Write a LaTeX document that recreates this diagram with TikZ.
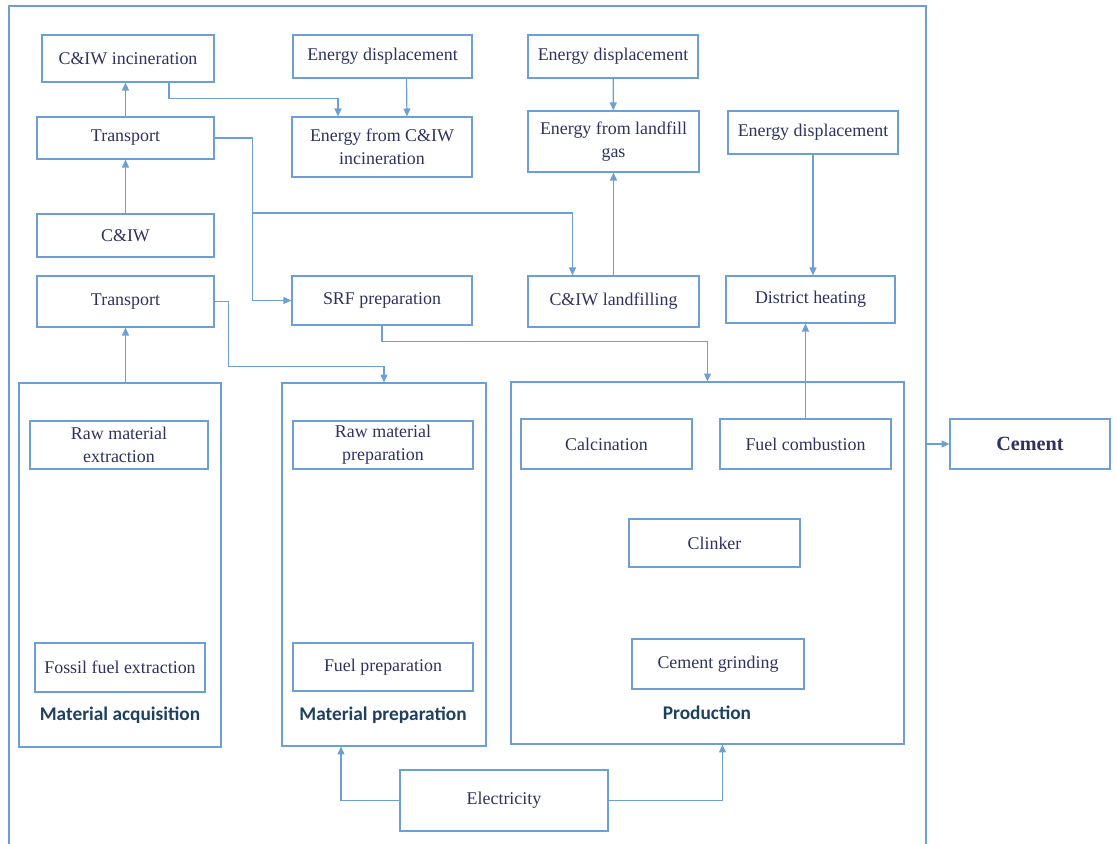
\documentclass[tikz,border=0pt]{standalone}
\usepackage{fontspec}
\setmainfont{Liberation Serif}
\newfontfamily\labelfont{Carlito}
\usetikzlibrary{arrows.meta,calc}
\definecolor{lineblue}{RGB}{108,160,212}
\definecolor{textnavy}{RGB}{45,50,95}
\definecolor{labelteal}{RGB}{30,65,95}

\begin{document}
\begin{tikzpicture}[
    x=0.02cm, y=-0.02cm,
    font=\fontsize{10.2}{13}\selectfont,
    >={Triangle[length=4.5pt,width=4pt]},
    box/.style={draw=lineblue, line width=0.7pt, text=textnavy, align=center, inner sep=1pt},
    group/.style={draw=lineblue, line width=0.7pt},
    arr/.style={->, lineblue, line width=0.7pt},
    grouplabel/.style={font=\labelfont\bfseries\fontsize{11}{13}\selectfont, text=labelteal}
]
    \useasboundingbox (0,0) rectangle (1117,844);
    \draw[group] (9,844) -- (9,6) -- (926,6) -- (926,844);

    \node[box, minimum width=3.44cm, minimum height=0.94cm] (inc) at (128,58.5) {C\&IW incineration};
    \node[box, minimum width=3.58cm, minimum height=0.86cm] (edisp1) at (382.5,56.5) {Energy displacement};
    \node[box, minimum width=3.54cm, minimum height=0.84cm] (trans1) at (125.5,138) {Transport};
    \node[box, minimum width=3.6cm, minimum height=1.2cm] (einc) at (382,147) {Energy from C\&IW\\incineration};
    \node[box, minimum width=3.54cm, minimum height=0.86cm] (ciw) at (125.5,235.5) {C\&IW};
    \node[box, minimum width=3.54cm, minimum height=1.02cm] (trans2) at (125.5,301.5) {Transport};
    \node[box, minimum width=3.6cm, minimum height=0.98cm] (srf) at (382,300.5) {SRF preparation};
    \node[box, minimum width=3.4cm, minimum height=0.86cm] (edisp2) at (613,56.5) {Energy displacement};
    \node[box, minimum width=3.42cm, minimum height=1.22cm] (elfg) at (613.5,141.5) {Energy from landfill\\gas};
    \node[box, minimum width=3.4cm, minimum height=0.86cm] (edisp3) at (813,132.5) {Energy displacement};
    \node[box, minimum width=3.42cm, minimum height=1.02cm] (landf) at (613.5,301.5) {C\&IW landfilling};
    \node[box, minimum width=3.38cm, minimum height=0.94cm] (dheat) at (810.5,299.5) {District heating};

    \node[group, minimum width=4.04cm, minimum height=7.28cm] (acq) at (120,565) {};
    \node[box, minimum width=3.56cm, minimum height=0.96cm] (rawext) at (119,445) {Raw material\\extraction};
    \node[box, minimum width=3.4cm, minimum height=0.98cm] (fossil) at (120,667.5) {Fossil fuel extraction};
    \node[grouplabel] (acqlabel) at (120,715) {Material acquisition};

    \node[group, minimum width=4.08cm, minimum height=7.26cm] (prep) at (384,564.5) {};
    \node[box, minimum width=3.6cm, minimum height=0.96cm] (rawprep) at (383,445) {Raw material\\preparation};
    \node[box, minimum width=3.6cm, minimum height=0.96cm] (fuelprep) at (383,667) {Fuel preparation};
    \node[grouplabel] (preplabel) at (383,715) {Material preparation};

    \node[group, minimum width=7.86cm, minimum height=7.24cm] (prod) at (707.5,563) {};
    \node[box, minimum width=3.42cm, minimum height=1cm] (calc) at (606.5,444) {Calcination};
    \node[box, minimum width=3.42cm, minimum height=1cm] (fuelcomb) at (805.5,444) {Fuel combustion};
    \node[box, minimum width=3.42cm, minimum height=0.96cm] (clinker) at (714.5,543) {Clinker};
    \node[box, minimum width=3.44cm, minimum height=1cm] (grind) at (718,664) {Cement grinding};
    \node[grouplabel] (prodlabel) at (707,713) {Production};

    \node[box, minimum width=3.2cm, minimum height=1cm, font=\fontsize{11.5}{13}\selectfont\bfseries] (cement) at (1030,444) {Cement};
    \node[box, minimum width=4.16cm, minimum height=1.22cm] (elec) at (504,800.5) {Electricity};
    \coordinate (frame) at (926,444);

    \draw[arr] (trans1.north) -- (trans1.north |- inc.south);
    \draw[arr] (ciw) -- (trans1);
    \draw[arr] (trans2.south |- acq.north) -- (trans2.south);
    \draw[arr] ($(inc.south)+(41,0)$) |- ($(einc.north)+(-44,-18)$) -- ($(einc.north)+(-44,0)$);
    \draw[arr] ($(edisp1.south)+(24,0)$) -- ($(einc.north)+(25,0)$);
    \draw[arr] (trans1.east) -- ++(38,0) |- (srf.west);
    \draw[arr] ($(trans1.east)+(38,75)$) -| ($(landf.north)+(-41,0)$);
    \draw[arr] (edisp2) -- (elfg);
    \draw[arr] (landf) -- (elfg);
    \draw[arr] (edisp3.south) -- (edisp3.south |- dheat.north);
    \draw[arr] (fuelcomb.north) -- (fuelcomb.north |- dheat.south);
    \draw[arr] (srf.south) -- ++(0,16) -| (prod.north);
    \draw[arr] (trans2.east) -- ++(14,0) |- ($(prep.north)+(0,-16)$) -- (prep.north);
    \draw[arr] (elec.west) -| ($(prep.south)+(-43,0)$);
    \draw[arr] (elec.east) -| ($(prod.south)+(15,0)$);
    \draw[arr] (frame) -- (cement.west);
\end{tikzpicture}
\end{document}
